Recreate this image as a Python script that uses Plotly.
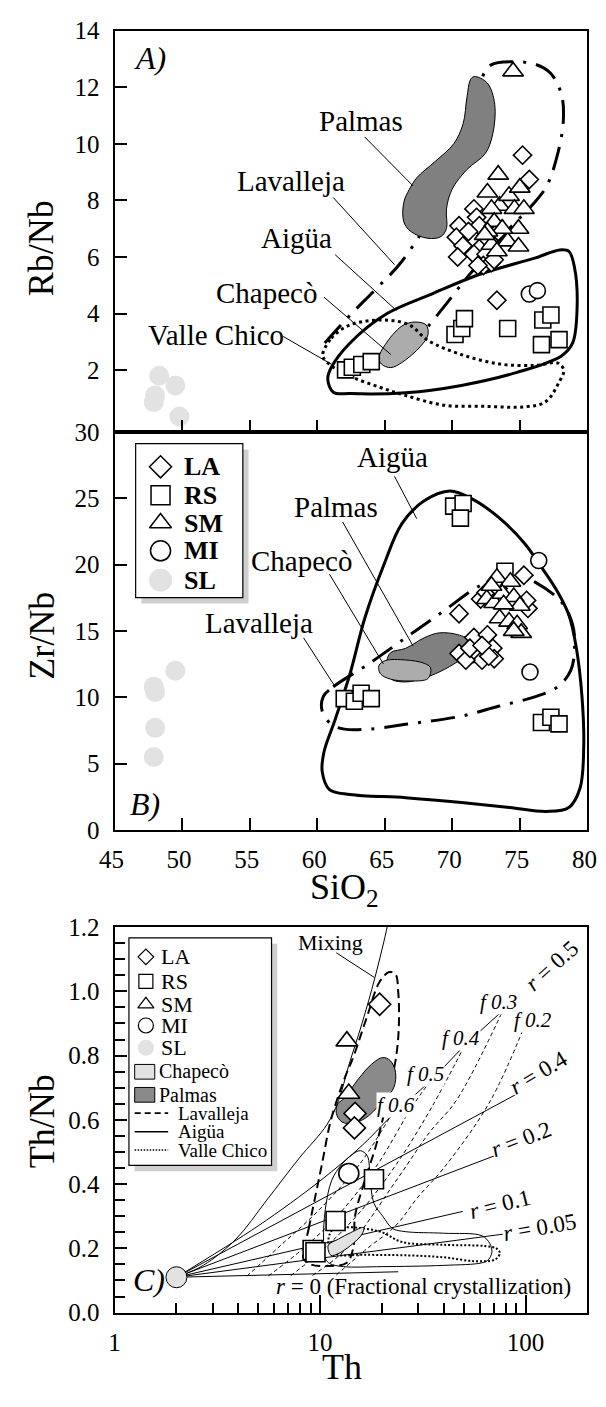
import numpy as np
import plotly.graph_objects as go

SERIF = "Liberation Serif, Times New Roman, serif"
W, H = 606, 1407

# ---------------- Panel A: Rb/Nb vs SiO2 ----------------
a_la_sio2 = [75.2, 75.7, 73.3, 70.5, 70.3, 70.8, 70.4, 71.6, 71.8, 71.5, 71.6, 72.0, 72.5, 72.3, 72.9, 73.1, 71.9, 72.7, 73.4, 71.2]
a_la_rbnb = [9.6, 8.74, 4.47, 7.1, 6.7, 6.4, 6.0, 7.7, 7.4, 6.7, 6.1, 7.1, 6.1, 5.7, 5.8, 5.9, 5.7, 6.6, 6.9, 6.9]
a_rs_sio2 = [62.1, 62.6, 63.3, 64.0, 70.2, 70.7, 70.9, 74.1, 76.7, 77.3, 76.6, 77.9]
a_rs_rbnb = [2.01, 2.1, 2.2, 2.3, 3.26, 3.47, 3.82, 3.47, 3.77, 3.95, 2.9, 3.08]
a_sm_sio2 = [74.5, 73.4, 72.6, 73.5, 72.9, 74.2, 75.0, 74.6, 75.3, 74.9, 74.1, 74.9, 73.1, 73.7, 72.6, 72.9, 73.3, 72.4]
a_sm_rbnb = [12.56, 8.91, 8.28, 7.81, 7.7, 8.16, 8.45, 7.7, 7.7, 7.0, 6.55, 6.37, 7.24, 7.0, 6.9, 6.43, 6.2, 6.78]
a_mi_sio2 = [75.7, 76.3]
a_mi_rbnb = [4.69, 4.81]
a_sl_sio2 = [48.3, 49.5, 48.0, 47.9, 49.8]
a_sl_rbnb = [1.8, 1.46, 1.1, 0.87, 0.36]

# field outlines, panel A
a_aig_x = [60.78, 61.19, 62.43, 66.55, 70.67, 74.79, 78.08, 78.91, 79.24, 79.05, 78.63, 77.95, 76.16, 72.04, 68.47, 65.17, 62.43, 61.05]
a_aig_y = [1.69, 1.22, 1.17, 1.2, 1.46, 1.92, 2.5, 2.96, 4.23, 5.62, 6.2, 6.25, 5.97, 5.39, 4.69, 4.0, 2.96, 2.1]
a_lav_x = [60.56, 62.43, 64.35, 66.27, 69.3, 71.49, 72.2, 72.87, 74.51, 76.16, 77.26, 78.08, 78.22, 77.81, 76.99, 75.89, 74.24, 72.59, 71.08, 69.57, 68.2, 67.37]
a_lav_y = [2.96, 3.94, 4.87, 5.85, 8.16, 10.82, 12.33, 12.79, 12.9, 12.81, 12.5, 11.75, 10.82, 9.66, 8.51, 7.82, 7.01, 6.08, 5.27, 4.35, 3.54, 3.07]
a_vc_x = [60.4, 61.05, 62.43, 64.9, 66.82, 68.2, 70.67, 73.6, 76.16, 77.81, 78.25, 77.9, 76.9, 75.3, 72.5, 69.4, 66.5, 64.6, 62.6, 61.2, 60.5]
a_vc_y = [2.55, 3.13, 3.6, 3.77, 3.6, 3.05, 2.55, 2.21, 2.17, 2.25, 2.0, 1.57, 0.88, 0.7, 0.72, 0.76, 1.11, 1.4, 1.75, 2.1, 2.4]
a_pal_x = [71.63, 72.59, 73.14, 73.0, 72.45, 71.08, 69.98, 69.57, 69.57, 69.16, 68.2, 66.96, 66.41, 66.41, 66.82, 67.37, 68.74, 70.12, 70.8, 71.08, 71.35]
a_pal_y = [12.38, 12.15, 11.4, 10.36, 9.66, 9.09, 8.39, 7.7, 7.01, 6.72, 6.66, 6.89, 7.24, 7.93, 8.39, 8.8, 9.38, 10.01, 10.71, 11.63, 12.27]
a_cha_x = [64.57, 65.03, 66.27, 67.23, 68.06, 68.2, 67.65, 66.27, 65.45, 64.76]
a_cha_y = [2.44, 2.9, 3.56, 3.7, 3.6, 3.25, 2.84, 2.27, 2.09, 2.21]

# ---------------- Panel B: Zr/Nb vs SiO2 ----------------
b_la_sio2 = [70.5, 75.3, 75.6, 75.5, 72.1, 72.5, 73.4, 71.6, 72.6, 70.5, 71.6, 73.0, 73.1, 72.2, 71.0, 71.3, 72.7, 72.2]
b_la_zrnb = [16.3, 19.2, 16.7, 17.3, 17.4, 17.9, 18.2, 14.5, 14.7, 13.3, 13.3, 13.7, 12.9, 12.8, 12.8, 13.7, 13.1, 13.9]
b_rs_sio2 = [70.1, 70.8, 70.6, 73.9, 62.0, 62.75, 63.25, 64.0, 76.6, 77.3, 77.9]
b_rs_zrnb = [24.4, 24.6, 23.5, 19.5, 9.9, 9.7, 10.3, 9.9, 8.1, 8.5, 8.0]
b_sm_sio2 = [73.3, 74.3, 72.55, 73.1, 73.7, 74.55, 75.0, 73.5, 74.2, 74.8, 75.1, 74.55, 73.8, 72.9]
b_sm_zrnb = [19.0, 18.7, 17.4, 17.1, 17.8, 17.55, 16.9, 15.95, 15.7, 15.5, 14.85, 15.0, 17.0, 18.4]
b_mi_sio2 = [76.4, 75.75]
b_mi_zrnb = [20.3, 11.9]
b_sl_sio2 = [47.9, 48.0, 48.0, 47.9, 49.5]
b_sl_zrnb = [10.8, 10.4, 7.7, 5.5, 12.0]

b_aig_x = [69.84, 67.92, 66.27, 64.9, 63.52, 62.43, 61.33, 60.5, 60.37, 60.91, 62.43, 66.55, 70.67, 74.24, 76.99, 78.63, 79.46, 79.73, 79.6, 79.18, 78.63, 77.81, 76.71, 75.34, 73.41, 71.49]
b_aig_y = [25.54, 24.8, 23.08, 19.89, 15.95, 11.77, 8.33, 5.88, 4.4, 3.05, 2.68, 2.43, 2.07, 1.7, 1.4, 1.7, 3.17, 6.37, 10.05, 13.74, 16.2, 17.92, 19.64, 21.61, 23.57, 24.93]
b_lav_x = [60.45, 61.19, 63.8, 66.55, 69.29, 72.04, 73.69, 75.06, 76.16, 78.08, 78.91, 79.05, 78.77, 77.81, 76.16, 73.41, 70.67, 66.55, 63.8, 62.01, 61.05, 60.37]
b_lav_y = [10.05, 10.79, 12.51, 14.48, 16.45, 18.41, 19.03, 19.1, 18.66, 17.18, 15.46, 13.74, 12.02, 10.79, 10.05, 9.32, 8.58, 7.96, 7.6, 7.6, 7.96, 8.95]
b_pal_x = [65.17, 65.45, 66.55, 67.92, 69.02, 70.39, 71.35, 71.22, 70.12, 68.74, 67.37, 66.27, 65.45]
b_pal_y = [12.76, 13.37, 13.69, 14.48, 14.85, 14.72, 14.23, 13.37, 12.51, 11.77, 11.28, 11.16, 11.41]
b_cha_x = [64.57, 65.03, 66.55, 67.92, 68.39, 68.2, 66.82, 65.45, 64.68]
b_cha_y = [12.39, 12.76, 12.81, 12.56, 12.22, 11.41, 11.23, 11.36, 11.77]

# ---------------- Panel C: Th/Nb vs Th ----------------
c_la_th = [19.5, 14.8, 14.7]
c_la_thnb = [0.96, 0.62, 0.575]
c_rs_th = [18.3, 11.9, 9.2, 9.5]
c_rs_thnb = [0.415, 0.285, 0.195, 0.188]
c_sm_th = [13.5, 13.8]
c_sm_thnb = [0.845, 0.682]
c_mi_th = [13.8]
c_mi_thnb = [0.433]
c_sl_th = [2.0]
c_sl_thnb = [0.11]

c_lav_th = [8.3, 8.8, 9.4, 10.2, 11.3, 13.0, 14.6, 16.9, 19.5, 21.7, 23.3, 24.0, 24.2, 23.5, 21.5, 18.8, 16.3, 14.8, 14.5, 13.5, 11.0, 9.0]
c_lav_thnb = [0.17, 0.26, 0.35, 0.46, 0.6, 0.72, 0.8, 0.92, 1.03, 1.06, 1.053, 1.0, 0.9, 0.8, 0.68, 0.524, 0.40, 0.3, 0.2, 0.155, 0.145, 0.15]
c_aig_th = [10.6, 10.4, 10.6, 11.4, 12.7, 14.2, 15.7, 17.0, 17.5, 18.3, 20.2, 22.5, 26.0, 40.0, 61.4, 67.0, 68.6, 66.0, 61.4, 40.0, 20.0, 13.0, 11.2]
c_aig_thnb = [0.168, 0.229, 0.32, 0.412, 0.46, 0.49, 0.504, 0.487, 0.42, 0.34, 0.3, 0.262, 0.252, 0.247, 0.239, 0.215, 0.188, 0.165, 0.155, 0.147, 0.143, 0.143, 0.152]
c_vc_th = [11.0, 11.4, 13.0, 16.3, 20.2, 25.0, 40.0, 63.5, 72.0, 75.0, 71.0, 57.0, 40.0, 26.9, 16.3, 12.0]
c_vc_thnb = [0.21, 0.255, 0.265, 0.262, 0.249, 0.22, 0.211, 0.207, 0.2, 0.185, 0.165, 0.16, 0.172, 0.178, 0.18, 0.182]
c_pal_th = [12.0, 12.2, 13.1, 15.4, 17.8, 20.2, 22.0, 23.3, 22.9, 21.0, 18.8, 16.6, 14.5, 12.8]
c_pal_thnb = [0.62, 0.65, 0.667, 0.728, 0.773, 0.794, 0.784, 0.748, 0.702, 0.667, 0.636, 0.605, 0.59, 0.593]
c_cha_th = [10.96, 12.3, 14.1, 16.3, 16.0, 14.1, 12.2, 11.3]
c_cha_thnb = [0.209, 0.229, 0.249, 0.265, 0.244, 0.209, 0.183, 0.178]

# model trajectories (mixing, AFC with r, and equal-f curves)
mix_th = [2.0, 2.7, 3.9, 5.5, 7.9, 10.8, 12.3, 13.8, 16.0, 18.5, 21.3, 22.0]
mix_thnb = [0.11, 0.147, 0.229, 0.35, 0.48, 0.585, 0.66, 0.77, 0.90, 1.043, 1.206, 1.26]
afc_r = ["0.5", "0.4", "0.2", "0.1", "0.05", "0"]
afc_th = [[2.0, 5.0, 10.0, 16.0, 21.7, 34.6, 50.4, 77.5],
          [2.0, 98.0], [2.0, 86.0], [2.0, 49.5], [2.0, 77.5], [2.0, 24.0]]
afc_thnb = [[0.11, 0.27, 0.41, 0.52, 0.605, 0.723, 0.83, 0.94],
            [0.11, 0.692], [0.11, 0.509], [0.11, 0.315], [0.11, 0.244], [0.11, 0.127]]
f_names = ["0.6", "0.5", "0.4", "0.3", "0.2"]
f_th = [[4.4, 6.2, 9.9, 15.5, 21.7],
        [5.6, 8.3, 12.5, 19.0, 28.0, 34.6],
        [7.2, 10.5, 16.0, 24.0, 35.0, 50.4],
        [9.2, 13.5, 24.0, 34.0, 46.0, 77.5],
        [12.0, 17.0, 23.3, 30.0, 40.0, 67.0, 100.0]]
f_thnb = [[0.113, 0.2, 0.32, 0.46, 0.605],
          [0.114, 0.2, 0.31, 0.46, 0.64, 0.723],
          [0.115, 0.2, 0.32, 0.47, 0.64, 0.83],
          [0.116, 0.2, 0.42, 0.56, 0.66, 0.94],
          [0.117, 0.2, 0.27, 0.36, 0.45, 0.656, 0.9]]

# ---------------- figure geometry (pixels) ----------------
PX_L, PX_R = 103, 597
A_TOP, A_BOT = 18, 427
B_BOT = 833
C_TOP, C_BOT = 932, 1325


def fx(px):
    return px / W


def fy(py):
    return 1 - py / H


fig = go.Figure()


def closed(xs, ys):
    return list(xs) + [xs[0]], list(ys) + [ys[0]]


def outline(xs, ys, ax, width, dash="solid", close=True, color="black"):
    if close:
        xs, ys = closed(xs, ys)
    fig.add_trace(go.Scatter(x=xs, y=ys, mode="lines", xaxis=ax[0], yaxis=ax[1],
                             line=dict(color=color, width=width, dash=dash, shape="spline", smoothing=1.0),
                             hoverinfo="skip", showlegend=False))


def filled(xs, ys, ax, fill):
    xs, ys = closed(xs, ys)
    fig.add_trace(go.Scatter(x=xs, y=ys, mode="lines", xaxis=ax[0], yaxis=ax[1], fill="toself",
                             fillcolor=fill, line=dict(color="black", width=1, shape="spline", smoothing=1.0),
                             hoverinfo="skip", showlegend=False))


def straight(xs, ys, ax, width=1, dash="solid"):
    fig.add_trace(go.Scatter(x=xs, y=ys, mode="lines", xaxis=ax[0], yaxis=ax[1],
                             line=dict(color="black", width=width, dash=dash),
                             hoverinfo="skip", showlegend=False))


def pts(xs, ys, ax, symbol, size, fill="white", lw=1.6, lc="black"):
    fig.add_trace(go.Scatter(x=xs, y=ys, mode="markers", xaxis=ax[0], yaxis=ax[1],
                             marker=dict(symbol=symbol, size=size, color=fill,
                                         line=dict(color=lc, width=lw)),
                             hoverinfo="skip", showlegend=False))


AX_A = ("x", "y")
AX_B = ("x2", "y2")
AX_C = ("x3", "y3")
AX_P = ("x4", "y4")

DASHDOT = "24px,10px,3px,10px"
DOTS = "3px,3.5px"
LIGHT = "#e2e2e2"

# ---- panel A drawing ----
outline(a_lav_x, a_lav_y, AX_A, 3, DASHDOT, close=False)
filled(a_pal_x, a_pal_y, AX_A, "#808080")
filled(a_cha_x, a_cha_y, AX_A, "#acacac")
outline(a_vc_x, a_vc_y, AX_A, 3, DOTS)
outline(a_aig_x, a_aig_y, AX_A, 3)
straight([63.52, 67.10], [10.24, 8.51], AX_A)
straight([61.19, 65.72], [8.10, 5.73], AX_A)
straight([61.33, 65.86], [6.08, 4.11], AX_A)
straight([60.5, 65.45], [4.58, 2.55], AX_A)
straight([57.48, 61.05], [3.19, 2.21], AX_A)
pts(a_sl_sio2, a_sl_rbnb, AX_A, "circle", 20, fill=LIGHT, lw=0)
pts(a_rs_sio2, a_rs_rbnb, AX_A, "square", 16)
pts(a_la_sio2, a_la_rbnb, AX_A, "diamond", 14)
pts(a_sm_sio2, a_sm_rbnb, AX_A, "triangle-up", 18)
pts(a_mi_sio2, a_mi_rbnb, AX_A, "circle", 16)

# ---- panel B drawing ----
filled(b_pal_x, b_pal_y, AX_B, "#808080")
filled(b_cha_x, b_cha_y, AX_B, "#acacac")
outline(b_lav_x, b_lav_y, AX_B, 3, DASHDOT)
outline(b_aig_x, b_aig_y, AX_B, 3)
straight([65.72, 67.37], [26.65, 23.45], AX_B)
straight([61.88, 67.10], [23.21, 13.86], AX_B)
straight([60.91, 64.90], [19.27, 12.51], AX_B)
straight([58.99, 61.33], [14.48, 10.79], AX_B)
pts(b_sl_sio2, b_sl_zrnb, AX_B, "circle", 20, fill=LIGHT, lw=0)
pts(b_rs_sio2, b_rs_zrnb, AX_B, "square", 16)
pts(b_la_sio2, b_la_zrnb, AX_B, "diamond", 14)
pts(b_sm_sio2, b_sm_zrnb, AX_B, "triangle-up", 18)
pts(b_mi_sio2, b_mi_zrnb, AX_B, "circle", 16)

# ---- panel C drawing ----
outline(c_aig_th, c_aig_thnb, AX_C, 1)
outline(c_vc_th, c_vc_thnb, AX_C, 2, "2px,2px")
outline(c_lav_th, c_lav_thnb, AX_C, 2, "9px,5px")
for xs, ys in zip(f_th, f_thnb):
    outline(xs, ys, AX_C, 1, "4px,3px", close=False)
for xs, ys in zip(afc_th, afc_thnb):
    outline(xs, ys, AX_C, 1, close=False)
outline(mix_th, mix_thnb, AX_C, 1, close=False)
straight([12.0, 18.4], [1.12, 1.043], AX_C)
filled(c_pal_th, c_pal_thnb, AX_C, "#8a8a8a")
filled(c_cha_th, c_cha_thnb, AX_C, LIGHT)
pts(c_sl_th, c_sl_thnb, AX_C, "circle", 21, fill=LIGHT, lw=1)
pts(c_rs_th, c_rs_thnb, AX_C, "square", 19)
pts(c_la_th, c_la_thnb, AX_C, "diamond", 17)
pts(c_sm_th, c_sm_thnb, AX_C, "triangle-up", 19)
pts(c_mi_th, c_mi_thnb, AX_C, "circle", 20)

# ---- legends (drawn on a full-page pixel overlay) ----
shapes = []


def legend_box(x0, y0, x1, y1):
    shapes.append(dict(type="rect", xref="x4", yref="y4", x0=x0 + 6, y0=y0 + 6, x1=x1 + 6, y1=y1 + 6,
                       fillcolor="#cfcfcf", line=dict(width=0), layer="below"))
    shapes.append(dict(type="rect", xref="x4", yref="y4", x0=x0, y0=y0, x1=x1, y1=y1,
                       fillcolor="white", line=dict(color="black", width=1.2), layer="below"))


legend_box(125, 439, 237, 596)
legend_box(118, 943, 267, 1175)

codes = ["LA", "RS", "SM", "MI", "SL"]
syms = ["diamond", "square", "triangle-up", "circle", "circle"]
leg_b_y = [462.7, 491.7, 520.0, 548.3, 578.3]
leg_b_size = [17, 19, 19, 20, 23]
leg_c_y = [962.3, 987.3, 1010.7, 1032.3, 1055.0]
leg_c_size = [12, 14, 14, 15, 16]
annotations = []
for i, code in enumerate(codes):
    is_sl = code == "SL"
    pts([151], [leg_b_y[i]], AX_P, syms[i], leg_b_size[i], fill=LIGHT if is_sl else "white", lw=0 if is_sl else 1.5)
    pts([135.7], [leg_c_y[i]], AX_P, syms[i], leg_c_size[i], fill=LIGHT if is_sl else "white", lw=0 if is_sl else 1.2)
    annotations.append(dict(xref="x4", yref="y4", x=173, y=leg_b_y[i], text="<b>%s</b>" % code,
                            showarrow=False, xanchor="left", yanchor="middle",
                            font=dict(family=SERIF, size=26, color="black")))
    annotations.append(dict(xref="x4", yref="y4", x=149, y=leg_c_y[i], text=code,
                            showarrow=False, xanchor="left", yanchor="middle",
                            font=dict(family=SERIF, size=22, color="black")))

for yc, fc, name in [(1079.5, LIGHT, "Chapecò"), (1103.0, "#8a8a8a", "Palmas")]:
    shapes.append(dict(type="rect", xref="x4", yref="y4", x0=124, x1=145, y0=yc - 7.5, y1=yc + 7.5,
                       fillcolor=fc, line=dict(color="black", width=1), layer="below"))
    annotations.append(dict(xref="x4", yref="y4", x=147, y=yc, text=name, showarrow=False,
                            xanchor="left", yanchor="middle", font=dict(family=SERIF, size=20, color="black")))
for yc, dash, lw, name in [(1121.7, "6px,4px", 1.6, "Lavalleja"), (1140.7, "solid", 1.6, "Aigüa"),
                           (1159.3, "1.5px,1.5px", 1.6, "Valle Chico")]:
    straight([124, 159], [yc, yc], AX_P, width=lw, dash=dash)
    annotations.append(dict(xref="x4", yref="y4", x=167, y=yc, text=name, showarrow=False,
                            xanchor="left", yanchor="middle", font=dict(family=SERIF, size=19, color="black")))


# ---- text labels ----
def label(ax, x, y, text, size=28, italic=False, angle=0, bg=None, anchor="center"):
    t = "<i>%s</i>" % text if italic else text
    d = dict(xref=ax[0], yref=ax[1], x=x, y=y, text=t, showarrow=False, textangle=angle,
             xanchor=anchor, yanchor="middle", font=dict(family=SERIF, size=size, color="black"))
    if bg:
        d["bgcolor"] = bg
        d["borderpad"] = 0
    annotations.append(d)


label(AX_A, 47.6, 13.02, "A)", size=32, italic=True)
label(AX_A, 63.25, 10.82, "Palmas", size=29)
label(AX_A, 58.03, 8.68, "Lavalleja", size=29)
label(AX_A, 58.44, 6.66, "Aigüa", size=29)
label(AX_A, 56.24, 4.72, "Chapecò", size=29)
label(AX_A, 52.54, 3.25, "Valle Chico", size=29)

label(AX_B, 47.26, 1.94, "B)", size=32, italic=True)
label(AX_B, 65.58, 28.12, "Aigüa", size=29)
label(AX_B, 61.38, 24.31, "Palmas", size=29)
label(AX_B, 58.8, 20.26, "Chapecò", size=29)
label(AX_B, 55.69, 15.59, "Lavalleja", size=29)

lg = np.log10
label(AX_C, lg(1.47), 0.102, "C)", size=32, italic=True)
label(AX_C, lg(11.25), 1.151, "Mixing", size=22)
f_lab_th = [23.3, 32.6, 48.7, 73.6, 109.0]
f_lab_y = [0.646, 0.743, 0.855, 0.967, 0.91]
for name, tx, ty in zip(f_names, f_lab_th, f_lab_y):
    label(AX_C, lg(tx), ty, "f " + name, size=21, italic=True, bg="white")
r_lab_th = [135.0, 116.0, 94.6, 74.8, 117.0]
r_lab_y = [1.079, 0.748, 0.54, 0.336, 0.265]
r_lab_ang = [-42, -31, -21, -14, -10]
for name, tx, ty, ang in zip(afc_r[:5], r_lab_th, r_lab_y, r_lab_ang):
    label(AX_C, lg(tx), ty, "<i>r</i> = " + name, size=23, angle=ang, bg="white")
label(AX_C, lg(32.0), 0.0815, "<i>r</i> = 0 (Fractional crystallization)", size=23)

# axis titles
for text, x, y, ang in [("Rb/Nb", 27, 240, -90), ("Zr/Nb", 27, 635, -90), ("SiO<sub>2</sub>", 343, 894, 0),
                        ("Th/Nb", 27, 1130, -90), ("Th", 341, 1381, 0)]:
    annotations.append(dict(xref="paper", yref="paper", x=fx(x), y=fy(y), text=text, showarrow=False,
                            textangle=ang, xanchor="center", yanchor="middle",
                            font=dict(family=SERIF, size=36, color="black")))

# ---- axes ----
TICKFONT = dict(family=SERIF, size=25, color="black")
frame = dict(showline=True, linecolor="black", linewidth=2, mirror=True, showgrid=False, zeroline=False,
             ticks="inside", tickcolor="black", tickwidth=1.5, ticklen=12, tickfont=TICKFONT)
XD = [fx(PX_L), fx(PX_R)]

fig.update_layout(
    width=W, height=H, margin=dict(l=0, r=0, t=0, b=0),
    paper_bgcolor="white", plot_bgcolor="rgba(0,0,0,0)", showlegend=False,
    xaxis=dict(domain=XD, range=[45, 80], anchor="y", tickvals=[50, 55, 60, 65, 70, 75],
               showticklabels=False, **frame),
    yaxis=dict(domain=[fy(A_BOT), fy(A_TOP)], range=[-0.18, 14], anchor="x",
               tickvals=[2, 4, 6, 8, 10, 12, 14], ticklabelstandoff=8, **frame),
    xaxis2=dict(domain=XD, range=[45, 80], anchor="y2", tickvals=[45, 50, 55, 60, 65, 70, 75, 80],
                ticklabelstandoff=6, ticklabelshift=-3, ticklabeloverflow="allow", **frame),
    yaxis2=dict(domain=[fy(B_BOT), fy(A_BOT)], range=[0, 30], anchor="x2",
                tickvals=[0, 5, 10, 15, 20, 25, 30], ticklabelstandoff=8, **frame),
    xaxis3=dict(domain=XD, type="log", range=[0, lg(200)], anchor="y3",
                tickvals=[1, 10, 100], ticktext=["1", "10", "100"], ticklabelstandoff=6,
                ticklabeloverflow="allow",
                minor=dict(tickvals=[2, 3, 4, 5, 6, 7, 8, 9, 20, 30, 40, 50, 60, 70, 80, 90],
                           ticks="inside", ticklen=10, tickwidth=1.5, tickcolor="black"),
                **{k: v for k, v in frame.items() if k != "ticklen"}, ticklen=18),
    yaxis3=dict(domain=[fy(C_BOT), fy(C_TOP)], range=[0, 1.2], anchor="x3",
                tickvals=[0, 0.2, 0.4, 0.6, 0.8, 1.0, 1.2], tickformat=".1f", ticklabelstandoff=8,
                minor=dict(dtick=0.05, ticks="inside", ticklen=10, tickwidth=1.5, tickcolor="black"),
                **frame),
    xaxis4=dict(domain=[0, 1], range=[0, W], anchor="y4", visible=False, fixedrange=True),
    yaxis4=dict(domain=[0, 1], range=[H, 0], anchor="x4", visible=False, fixedrange=True),
    shapes=shapes, annotations=annotations,
)

fig.write_html("out.html")
